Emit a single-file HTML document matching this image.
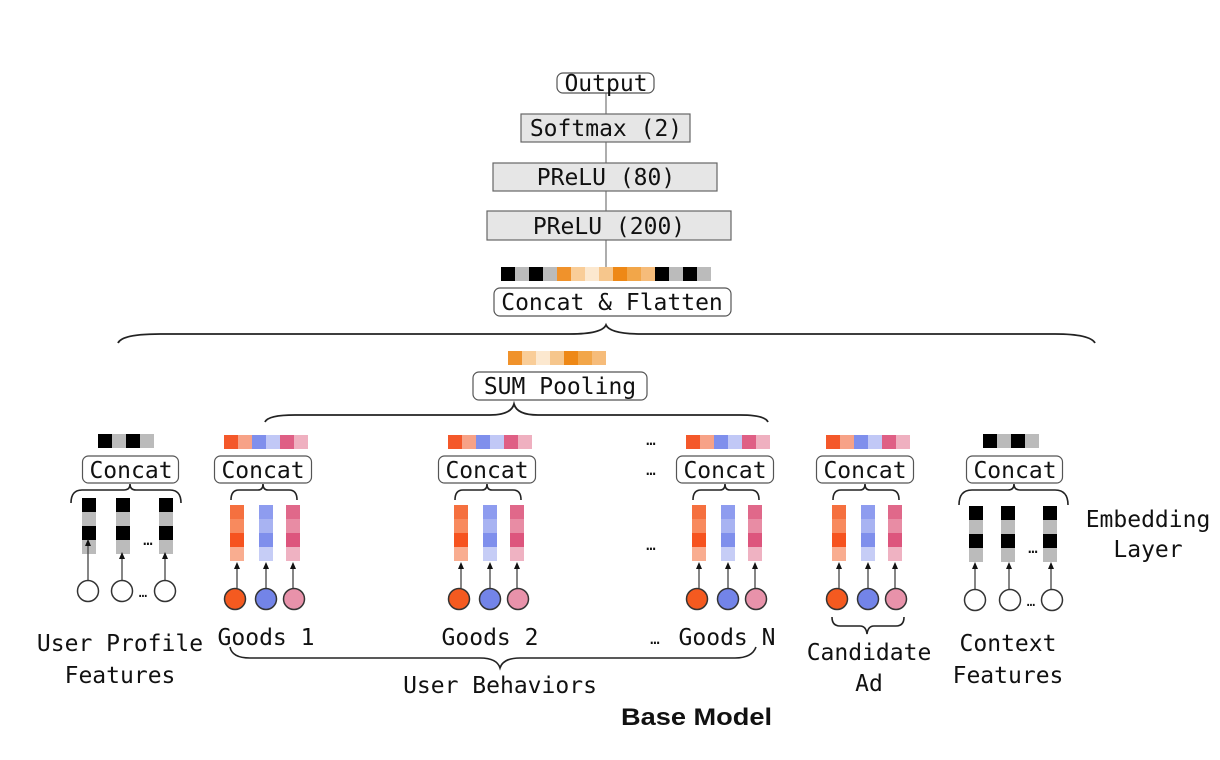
<!DOCTYPE html>
<html><head><meta charset="utf-8"><style>
html,body{margin:0;padding:0;background:#fff;}
svg{display:block;}
text{font-family:"DejaVu Sans Mono","Liberation Mono",monospace;fill:#111;}
</style></head><body>
<svg width="1220" height="760" viewBox="0 0 1220 760" xmlns="http://www.w3.org/2000/svg">
<defs>
<g id="goods">
  <rect x="10" y="435" width="14" height="14" fill="#f4582a"/>
  <rect x="24" y="435" width="14" height="14" fill="#f7a287"/>
  <rect x="38" y="435" width="14" height="14" fill="#7f8fec"/>
  <rect x="52" y="435" width="14" height="14" fill="#c1c8f6"/>
  <rect x="66" y="435" width="14" height="14" fill="#df5f85"/>
  <rect x="80" y="435" width="14" height="14" fill="#efb0c0"/>
  <rect x="0.5" y="456" width="97" height="27" rx="6" fill="#fff" stroke="#555" stroke-width="1.2"/>
  <path d="M17,500 Q17,490 25,490 L44,490 Q49,490 49,484 Q49,490 54,490 L75,490 Q83,490 83,500" fill="none" stroke="#222" stroke-width="1.6"/>
  <rect x="16" y="505" width="14" height="14" fill="#f5703f"/><rect x="16" y="519" width="14" height="14" fill="#f88a5e"/><rect x="16" y="533" width="14" height="14" fill="#f6531f"/><rect x="16" y="547" width="14" height="14" fill="#f9ad90"/>
  <rect x="45" y="505" width="14" height="14" fill="#8e9cef"/><rect x="45" y="519" width="14" height="14" fill="#a8b3f2"/><rect x="45" y="533" width="14" height="14" fill="#7f8fec"/><rect x="45" y="547" width="14" height="14" fill="#c6cdf6"/>
  <rect x="72" y="505" width="14" height="14" fill="#e0688a"/><rect x="72" y="519" width="14" height="14" fill="#e88ca4"/><rect x="72" y="533" width="14" height="14" fill="#dd557d"/><rect x="72" y="547" width="14" height="14" fill="#efb2c2"/>
  <g stroke="#444" stroke-width="1.3"><line x1="23" y1="588" x2="23" y2="568"/><line x1="52" y1="588" x2="52" y2="568"/><line x1="79" y1="588" x2="79" y2="568"/></g>
  <g fill="#111"><path d="M20,569 L26,569 L23,562Z"/><path d="M49,569 L55,569 L52,562Z"/><path d="M76,569 L82,569 L79,562Z"/></g>
  <circle cx="21" cy="599" r="10.5" fill="#f45a20" stroke="#333" stroke-width="1.5"/>
  <circle cx="52" cy="599" r="10.5" fill="#7384e8" stroke="#333" stroke-width="1.5"/>
  <circle cx="80" cy="599" r="10.5" fill="#e892aa" stroke="#333" stroke-width="1.5"/>
</g>
<g id="bw">
  <rect x="0" y="0" width="14" height="14" fill="#000"/><rect x="0" y="14" width="14" height="14" fill="#bbb"/><rect x="0" y="28" width="14" height="14" fill="#000"/><rect x="0" y="42" width="14" height="14" fill="#bbb"/>
</g>
<g id="bwstrip">
  <rect x="0" y="0" width="14" height="14" fill="#000"/><rect x="14" y="0" width="14" height="14" fill="#bbb"/><rect x="28" y="0" width="14" height="14" fill="#000"/><rect x="42" y="0" width="14" height="14" fill="#bbb"/>
</g>
</defs>

<line x1="606" y1="93" x2="606" y2="267" stroke="#777" stroke-width="1.2"/>
<rect x="557" y="73" width="97" height="20" rx="6" fill="#fff" stroke="#555" stroke-width="1.2"/>
<text x="606" y="91" font-size="23" text-anchor="middle">Output</text>
<rect x="521" y="114" width="169" height="28" fill="#e6e6e6" stroke="#666" stroke-width="1.2"/>
<text x="606" y="136" font-size="23" text-anchor="middle">Softmax (2)</text>
<rect x="493" y="163" width="224" height="28" fill="#e6e6e6" stroke="#666" stroke-width="1.2"/>
<text x="606" y="185" font-size="23" text-anchor="middle">PReLU (80)</text>
<rect x="487" y="211" width="244" height="29" fill="#e6e6e6" stroke="#666" stroke-width="1.2"/>
<text x="609" y="234" font-size="23" text-anchor="middle">PReLU (200)</text>
<g>
<rect x="501" y="267" width="14" height="14" fill="#000"/><rect x="515" y="267" width="14" height="14" fill="#bbb"/><rect x="529" y="267" width="14" height="14" fill="#000"/><rect x="543" y="267" width="14" height="14" fill="#bbb"/>
<rect x="557" y="267" width="14" height="14" fill="#f0922b"/><rect x="571" y="267" width="14" height="14" fill="#f9cd98"/><rect x="585" y="267" width="14" height="14" fill="#fce8cf"/><rect x="599" y="267" width="14" height="14" fill="#f6c68c"/>
<rect x="613" y="267" width="14" height="14" fill="#ee8816"/><rect x="627" y="267" width="14" height="14" fill="#f2a649"/><rect x="641" y="267" width="14" height="14" fill="#f6bc7a"/>
<rect x="655" y="267" width="14" height="14" fill="#000"/><rect x="669" y="267" width="14" height="14" fill="#bbb"/><rect x="683" y="267" width="14" height="14" fill="#000"/><rect x="697" y="267" width="14" height="14" fill="#bbb"/>
</g>
<rect x="494" y="288" width="237" height="28" rx="6" fill="#fff" stroke="#555" stroke-width="1.2"/>
<text x="612" y="310" font-size="23" text-anchor="middle">Concat &amp; Flatten</text>

<path d="M118,343 Q122,334 160,334 L570,334 Q602,334 606,325 Q610,334 642,334 L1055,334 Q1090,334 1095,343" fill="none" stroke="#222" stroke-width="1.8"/>

<g>
<rect x="508" y="351" width="14" height="14" fill="#f0922b"/><rect x="522" y="351" width="14" height="14" fill="#f9cd98"/><rect x="536" y="351" width="14" height="14" fill="#fce8cf"/><rect x="550" y="351" width="14" height="14" fill="#f6c68c"/><rect x="564" y="351" width="14" height="14" fill="#ee8816"/><rect x="578" y="351" width="14" height="14" fill="#f2a649"/><rect x="592" y="351" width="14" height="14" fill="#f6bc7a"/>
</g>
<rect x="473" y="372" width="174" height="28" rx="6" fill="#fff" stroke="#555" stroke-width="1.2"/>
<text x="560" y="394" font-size="23" text-anchor="middle">SUM Pooling</text>
<path d="M265,422 Q268,415 295,415 L490,415 Q511,415 514,404 Q517,415 538,415 L740,415 Q765,415 768,422" fill="none" stroke="#222" stroke-width="1.8"/>

<use href="#goods" x="214"/>
<use href="#goods" x="438"/>
<use href="#goods" x="676"/>
<use href="#goods" x="816"/>
<text x="263" y="478" font-size="23" text-anchor="middle">Concat</text>
<text x="487" y="478" font-size="23" text-anchor="middle">Concat</text>
<text x="725" y="478" font-size="23" text-anchor="middle">Concat</text>
<text x="865" y="478" font-size="23" text-anchor="middle">Concat</text>
<text x="651" y="445" font-size="16" text-anchor="middle">…</text>
<text x="651" y="475" font-size="16" text-anchor="middle">…</text>
<text x="651" y="550" font-size="16" text-anchor="middle">…</text>

<use href="#bwstrip" x="98" y="434"/>
<rect x="82.5" y="456" width="96" height="27" rx="6" fill="#fff" stroke="#555" stroke-width="1.2"/>
<text x="131" y="478" font-size="23" text-anchor="middle">Concat</text>
<path d="M71,503 Q71,490 82,490 L124,490 Q130,490 130,484 Q130,490 136,490 L170,490 Q181,490 181,503" fill="none" stroke="#222" stroke-width="1.6"/>
<use href="#bw" x="82" y="498"/><use href="#bw" x="116" y="498"/><use href="#bw" x="159" y="498"/>
<text x="148" y="545" font-size="16" text-anchor="middle">…</text>
<g stroke="#444" stroke-width="1.3"><line x1="88" y1="580" x2="88" y2="545"/><line x1="122" y1="580" x2="122" y2="558"/><line x1="165" y1="580" x2="165" y2="558"/></g>
<g fill="#111"><path d="M85,546 L91,546 L88,539Z"/><path d="M119,559 L125,559 L122,552Z"/><path d="M162,559 L168,559 L165,552Z"/></g>
<g fill="#fff" stroke="#333" stroke-width="1.5"><circle cx="88" cy="591" r="10.5"/><circle cx="122" cy="591" r="10.5"/><circle cx="165" cy="591" r="10.5"/></g>
<text x="143" y="597" font-size="14" text-anchor="middle">…</text>

<use href="#bwstrip" x="983" y="434"/>
<rect x="966.5" y="456" width="96" height="27" rx="6" fill="#fff" stroke="#555" stroke-width="1.2"/>
<text x="1015" y="478" font-size="23" text-anchor="middle">Concat</text>
<path d="M959,505 Q959,490 972,490 L1008,490 Q1014,490 1014,484 Q1014,490 1020,490 L1055,490 Q1068,490 1068,505" fill="none" stroke="#222" stroke-width="1.6"/>
<use href="#bw" x="969" y="506"/><use href="#bw" x="1001" y="506"/><use href="#bw" x="1043" y="506"/>
<text x="1033" y="553" font-size="16" text-anchor="middle">…</text>
<g stroke="#444" stroke-width="1.3"><line x1="975" y1="589" x2="975" y2="568"/><line x1="1009" y1="589" x2="1009" y2="568"/><line x1="1051" y1="589" x2="1051" y2="568"/></g>
<g fill="#111"><path d="M972,569 L978,569 L975,562Z"/><path d="M1006,569 L1012,569 L1009,562Z"/><path d="M1048,569 L1054,569 L1051,562Z"/></g>
<g fill="#fff" stroke="#333" stroke-width="1.5"><circle cx="975" cy="600" r="10.5"/><circle cx="1010" cy="600" r="10.5"/><circle cx="1052" cy="600" r="10.5"/></g>
<text x="1031" y="606" font-size="14" text-anchor="middle">…</text>

<text x="1148" y="527" font-size="23" text-anchor="middle">Embedding</text>
<text x="1148" y="557" font-size="23" text-anchor="middle">Layer</text>
<text x="120" y="651" font-size="23" text-anchor="middle">User Profile</text>
<text x="120" y="683" font-size="23" text-anchor="middle">Features</text>
<text x="266" y="645" font-size="23" text-anchor="middle">Goods 1</text>
<text x="490" y="645" font-size="23" text-anchor="middle">Goods 2</text>
<text x="655" y="644" font-size="16" text-anchor="middle">…</text>
<text x="727" y="645" font-size="23" text-anchor="middle">Goods N</text>
<path d="M230,647 Q232,658 250,658 L480,658 Q497,658 500,668 Q503,658 520,658 L735,658 Q752,658 756,647" fill="none" stroke="#222" stroke-width="1.6"/>
<text x="500" y="693" font-size="23" text-anchor="middle">User Behaviors</text>
<path d="M832,617 Q832,626 840,626 L860,626 Q866,626 867,634 Q868,626 874,626 L896,626 Q904,626 904,617" fill="none" stroke="#222" stroke-width="1.6"/>
<text x="869" y="660" font-size="23" text-anchor="middle">Candidate</text>
<text x="869" y="691" font-size="23" text-anchor="middle">Ad</text>
<text x="1008" y="651" font-size="23" text-anchor="middle">Context</text>
<text x="1008" y="683" font-size="23" text-anchor="middle">Features</text>
<text x="621" y="725" font-size="24" font-weight="bold" textLength="151" lengthAdjust="spacingAndGlyphs" style="font-family:'Liberation Sans',sans-serif">Base Model</text>
</svg>
</body></html>
